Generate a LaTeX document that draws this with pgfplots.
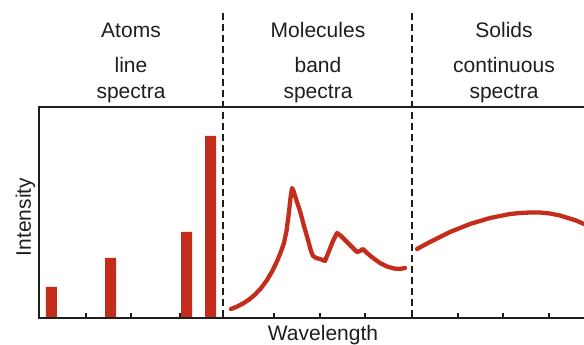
\documentclass[border=0pt]{standalone}
\usepackage{pgfplots}
\pgfplotsset{compat=1.18}
\usepackage{fontspec}
\setmainfont{Liberation Sans}
\definecolor{specred}{RGB}{196,44,28}
\definecolor{ink}{RGB}{30,30,30}
\begin{document}
\begin{tikzpicture}
\begin{axis}[
  at={(39pt,27pt)}, anchor=south west,
  x=1pt, y=1pt, xmin=39, xmax=584, ymin=0, ymax=211,
  axis line style={draw=none},
  xtick={86,131,180,274,320,365,458,503,549}, xticklabels={},
  ytick=\empty, tick align=inside, xtick pos=bottom,
  major tick length=5pt, tick style={line width=1.2pt, ink},
  clip=false,
]
% line spectra (atoms)
\addplot[ybar, bar width=11pt, fill=specred, draw=none] coordinates {
  (51.5,31) (110.5,60) (186.5,86) (210.5,182)};
% band spectra (molecules)
\addplot[specred, line width=4.3pt, line join=round, line cap=round] coordinates {
  (231,9) (237,11.4) (243,14.5) (249,18.4) (255,23.4) (261,29.8) (267,37.9)
  (272,46.4) (277,56.6) (281,66.5) (284,75) (286.5,87) (288.5,102) (290.5,120)
  (292,130) (293.5,127)
  (297,116) (300,107) (304,92) (308,78) (311,67) (313,62) (316,60) (320,59) (325,57)
  (329,67) (333,77) (337,85) (341,82) (346,77) (351,72) (357,66) (360,67) (363,69)
  (367,65) (373,60) (380,55) (387,51.5) (394,49.5) (400,49) (405,50)};
% continuous spectra (solids)
\addplot[specred, line width=4.3pt, line cap=round] coordinates {
  (417,69) (430,76) (440,81) (450,86) (460,90) (470,94) (480,97) (490,100)
  (500,102) (510,104) (520,105) (530,105.5) (540,105.5) (550,104.5) (560,102.5)
  (568,100) (576,97.5) (584,94)};
\draw[ink, line width=1.4pt] (axis cs:584,211) -- (axis cs:39,211) -- (axis cs:39,0) -- (axis cs:584,0);
\draw[ink, line width=1.3pt, dash pattern=on 7pt off 4pt] (axis cs:223,305) -- (axis cs:223,0);
\draw[ink, line width=1.3pt, dash pattern=on 7pt off 4pt] (axis cs:412,305) -- (axis cs:412,0);
\begin{scope}[every node/.style={font=\fontsize{21}{23}\selectfont, text=ink, anchor=base, inner sep=0pt}]
\node at (axis cs:131,280) {Atoms};
\node at (axis cs:131,245) {line};
\node at (axis cs:131,219) {spectra};
\node at (axis cs:318,280) {Molecules};
\node at (axis cs:318,245) {band};
\node at (axis cs:318,219) {spectra};
\node at (axis cs:504,280) {Solids};
\node at (axis cs:504,245) {continuous};
\node at (axis cs:504,219) {spectra};
\node at (axis cs:323,-23) {Wavelength};
\node[rotate=90] at (axis cs:31,101) {Intensity};
\end{scope}
\end{axis}
\pgfresetboundingbox
\useasboundingbox (0,0) rectangle (584pt,345pt);
\end{tikzpicture}
\end{document}
